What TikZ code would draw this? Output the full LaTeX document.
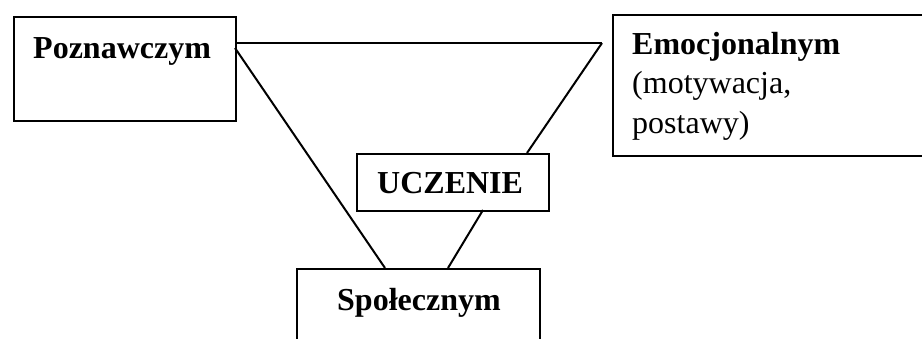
\documentclass[tikz,border=0pt]{standalone}
\usepackage{fontspec}
\setmainfont{Liberation Serif}
\begin{document}
\begin{tikzpicture}[x=1pt,y=-1pt,
  box/.style={draw=black,line width=2.2pt,inner sep=0pt,anchor=north west},
  lbl/.style={inner sep=0pt,anchor=base west,font=\fontsize{32}{39.5}\selectfont},
  conn/.style={draw=black,line width=2pt}]
\useasboundingbox (0,0) rectangle (922,338);
% boxes
\node[box,minimum width=222pt,minimum height=104pt] (pozn) at (13,16) {};
\node[box,minimum width=330pt,minimum height=141pt] (emoc) at (612,14) {};
\node[box,minimum width=192pt,minimum height=57pt] (ucz) at (356,153) {};
\node[box,minimum width=243pt,minimum height=100pt] (spol) at (296,268) {};
% texts
\node[lbl] (tpozn) at (33,58) {\textbf{Poznawczym}};
\node[lbl] (temoc1) at (632,54) {\textbf{Emocjonalnym}};
\node[lbl] (temoc2) at (632,93.5) {(motywacja,};
\node[lbl] (temoc3) at (632,133) {postawy)};
\node[lbl] (tucz) at (377,193) {\textbf{UCZENIE}};
\node[lbl] (tspol) at (337,310) {\textbf{Społecznym}};
% connector points
\coordinate (emtop) at (602,43);
\coordinate (pzr1) at (235,43);
\coordinate (pzr2) at (235,48);
\coordinate (uczt) at (527,153);
\coordinate (uczb) at (483,210);
\coordinate (spl) at (385,268);
\coordinate (spr) at (448,268);
% connectors
\draw[conn] (pzr1) -- (emtop);
\draw[conn] (emtop) -- (uczt);
\draw[conn] (pzr2) -- (spl);
\draw[conn] (uczb) -- (spr);
\end{tikzpicture}
\end{document}
